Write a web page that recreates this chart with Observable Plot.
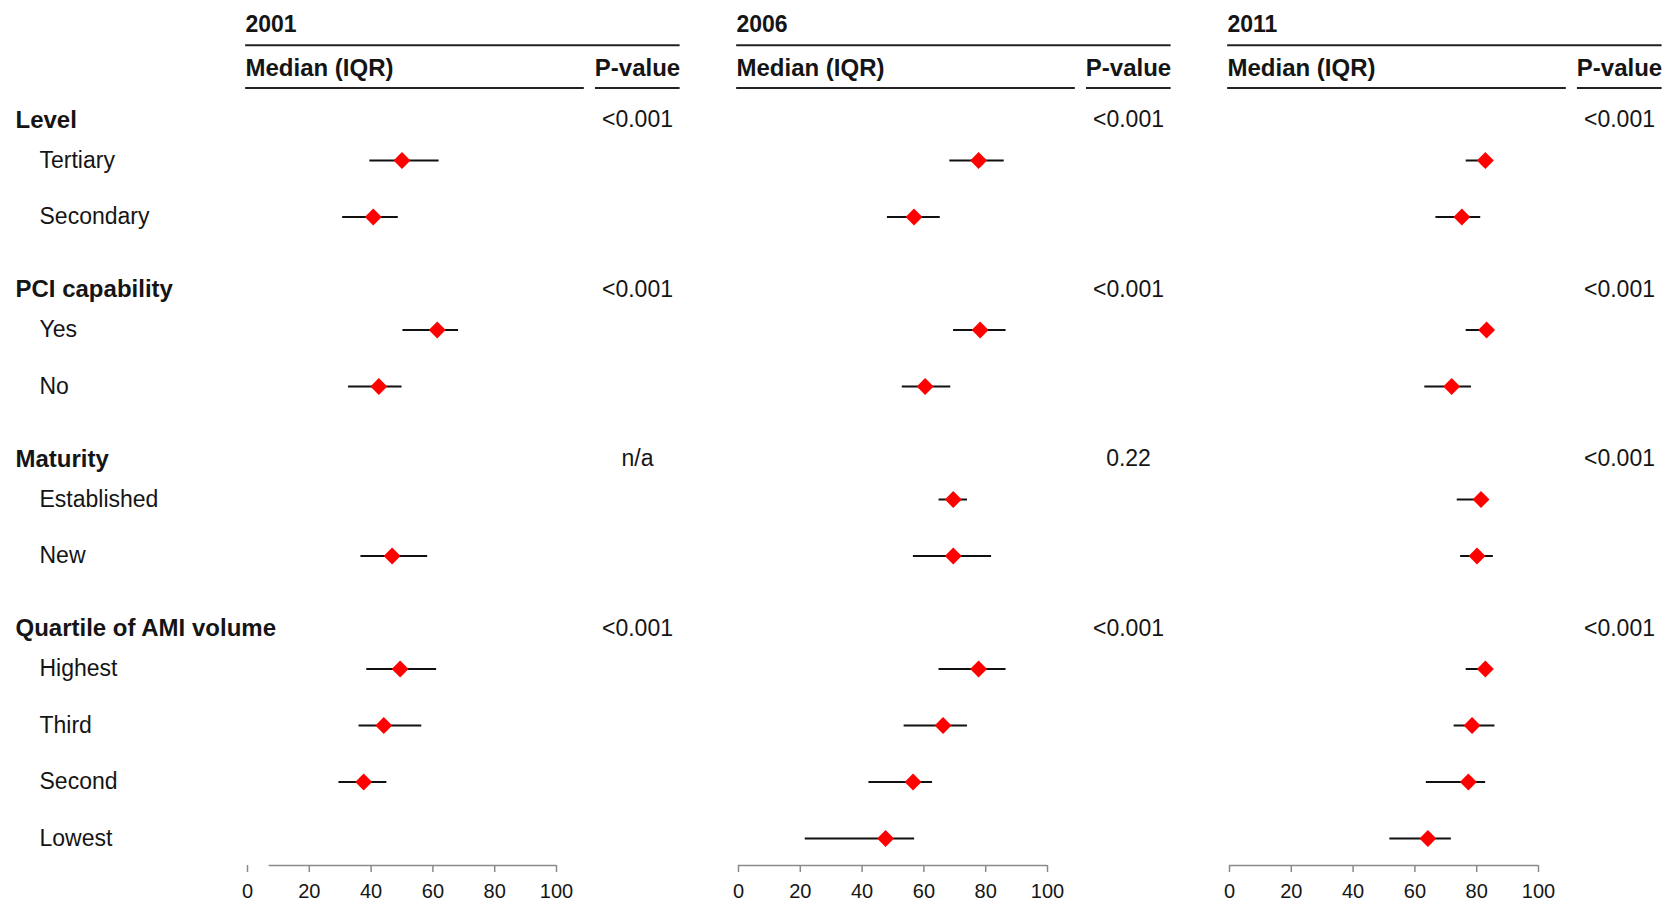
<!DOCTYPE html>
<html>
<head>
<meta charset="utf-8">
<script src="https://cdn.jsdelivr.net/npm/d3@7"></script>
<script src="https://cdn.jsdelivr.net/npm/@observablehq/plot@0.6"></script>
<style>
  html, body { margin: 0; padding: 0; background: #fff; }
  #chart { width: 1671px; height: 903px; }
</style>
</head>
<body>
<div id="chart"></div>
<script>
// ---------------- data ----------------
const years = ["2001", "2006", "2011"];
const groups = ["Level", "PCI capability", "Maturity", "Quartile of AMI volume"];
const groupItems = [
  ["Tertiary", "Secondary"],
  ["Yes", "No"],
  ["Established", "New"],
  ["Highest", "Third", "Second", "Lowest"]
];
// item order: Tertiary, Secondary, Yes, No, Established, New, Highest, Third, Second, Lowest
const med2001 = [50.0, 40.7, 61.4, 42.5, null, 46.8, 49.4, 44.1, 37.6, null];
const lo2001  = [39.6, 30.8, 50.3, 32.7, null, 36.7, 38.6, 36.1, 29.6, null];
const hi2001  = [62.0, 48.8, 68.3, 50.0, null, 58.3, 61.2, 56.4, 45.1, null];

const med2006 = [77.7, 56.8, 78.2, 60.4, 69.5, 69.5, 77.7, 66.2, 56.5, 47.6];
const lo2006  = [68.4, 48.2, 69.6, 53.0, 64.9, 56.6, 64.9, 53.6, 42.2, 21.6];
const hi2006  = [86.0, 65.3, 86.6, 68.7, 74.1, 81.9, 86.6, 74.1, 62.8, 57.0];

const med2011 = [82.8, 75.2, 83.2, 71.9, 81.4, 80.1, 82.8, 78.5, 77.3, 64.2];
const lo2011  = [76.6, 66.8, 76.6, 63.2, 73.7, 74.8, 76.6, 72.7, 63.7, 51.9];
const hi2011  = [84.7, 81.3, 85.2, 78.3, 83.7, 85.4, 84.7, 85.9, 82.9, 71.8];

const pvalues2001 = ["<0.001", "<0.001", "n/a", "<0.001"];
const pvalues2006 = ["<0.001", "<0.001", "0.22", "<0.001"];
const pvalues2011 = ["<0.001", "<0.001", "<0.001", "<0.001"];

const xTicks = [0, 20, 40, 60, 80, 100];
const axisFrom = [7, 0, 0];

// ---------------- layout constants ----------------
const ROW_PX = 56.5, FIRST_ROW_PX = 160, AXIS_PX = 865;
const Y_TOP = -FIRST_ROW_PX / ROW_PX;
const Y_BOTTOM = (AXIS_PX - FIRST_ROW_PX) / ROW_PX;
const HEADER_OFFSET = 0.72;

// ---------------- build tables ----------------
const meds = [med2001, med2006, med2011];
const los = [lo2001, lo2006, lo2011];
const his = [hi2001, hi2006, hi2011];
const pvals = [pvalues2001, pvalues2006, pvalues2011];

const labelRows = [];
const headerRows = [];
let row = 0;
const itemRow = [];
groups.forEach((g, gi) => {
  headerRows.push({group: g, gi, row: row - HEADER_OFFSET});
  labelRows.push({text: g, row: row - HEADER_OFFSET, bold: true});
  groupItems[gi].forEach(it => {
    labelRows.push({text: it, row, bold: false});
    itemRow.push(row);
    row += 1;
  });
  row += 1;
});

const points = [];
years.forEach((y, yi) => {
  meds[yi].forEach((m, i) => {
    if (m == null) return;
    points.push({year: y, row: itemRow[i], med: m, lo: los[yi][i], hi: his[yi][i]});
  });
});

const pTable = [];
years.forEach((y, yi) => {
  headerRows.forEach(h => pTable.push({year: y, row: h.row, p: pvals[yi][h.gi]}));
});

const axisLines = years.map((y, i) => ({year: y, from: axisFrom[i], to: 100}));

const TEXT = "#151515";
const chart = Plot.plot({
  width: 1671,
  height: 903,
  marginLeft: 246,
  marginRight: 132,
  marginTop: 0,
  marginBottom: 38,
  style: {fontFamily: "'Liberation Sans', Arial, sans-serif", background: "#fff", color: TEXT},
  fx: {domain: years, paddingInner: 0.371, paddingOuter: 0, axis: null},
  x: {domain: [0, 100], axis: null},
  y: {domain: [Y_TOP, Y_BOTTOM], range: [0, AXIS_PX], axis: null},
  marks: [
    // column headers
    Plot.text(years, {fx: d => d, text: d => d, frameAnchor: "top-left", lineAnchor: "middle", dx: -2, dy: 24.5,
      textAnchor: "start", fontSize: 23, fontWeight: "bold", fill: TEXT}),
    Plot.ruleY(years, {fx: d => d, y: () => Y_TOP, dy: 44.8, x1: -0.6, x2: 140, stroke: "#222", strokeWidth: 2}),
    Plot.text(years, {fx: d => d, text: () => "Median (IQR)", frameAnchor: "top-left", lineAnchor: "middle", dx: -2, dy: 68,
      textAnchor: "start", fontSize: 24, fontWeight: "bold", fill: TEXT}),
    Plot.text(years, {fx: d => d, text: () => "P-value", frameAnchor: "top-right", lineAnchor: "middle", dx: 81, dy: 68,
      textAnchor: "middle", fontSize: 24, fontWeight: "bold", fill: TEXT}),
    Plot.ruleY(years, {fx: d => d, y: () => Y_TOP, dy: 87.4, x1: -0.6, x2: 109, stroke: "#222", strokeWidth: 2}),
    Plot.ruleY(years, {fx: d => d, y: () => Y_TOP, dy: 87.4, x1: 112.6, x2: 140, stroke: "#222", strokeWidth: 2}),

    // left labels (drawn once, in the first facet)
    Plot.text(labelRows.filter(d => d.bold), {fx: () => years[0], y: "row", text: "text", frameAnchor: "left",
      dx: -232, textAnchor: "start", fontSize: 24, fontWeight: "bold", fill: TEXT}),
    Plot.text(labelRows.filter(d => !d.bold), {fx: () => years[0], y: "row", text: "text", frameAnchor: "left",
      dx: -208, textAnchor: "start", fontSize: 23, fill: TEXT}),

    // p-values
    Plot.text(pTable, {fx: "year", y: "row", text: "p", frameAnchor: "right", dx: 81,
      textAnchor: "middle", fontSize: 23, fill: TEXT}),

    // IQR whiskers and medians
    Plot.ruleY(points, {fx: "year", y: "row", x1: "lo", x2: "hi", stroke: "#111", strokeWidth: 2}),
    Plot.dot(points, {fx: "year", x: "med", y: "row", symbol: "diamond2", r: 7.6, fill: "#ff0000", stroke: "none"}),

    // x axis
    Plot.ruleY(axisLines, {fx: "year", y: () => Y_BOTTOM, x1: "from", x2: "to", stroke: "#8a8a8a", strokeWidth: 1.5}),
    Plot.axisX(xTicks, {tickSize: 7, tickPadding: 11, fontSize: 20, stroke: "#8a8a8a", strokeWidth: 1.5, fill: TEXT})
  ]
});
document.getElementById("chart").appendChild(chart);
</script>
</body>
</html>
